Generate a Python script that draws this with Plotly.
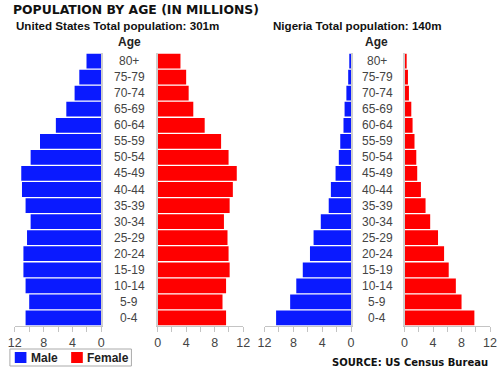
import plotly.graph_objects as go

ages = ["0-4", "5-9", "10-14", "15-19", "20-24", "25-29", "30-34", "35-39",
        "40-44", "45-49", "50-54", "55-59", "60-64", "65-69", "70-74", "75-79", "80+"]
us_male = [10.5, 10.0, 10.5, 10.8, 10.8, 10.3, 9.8, 10.5, 11.0, 11.1, 9.8, 8.5, 6.3, 4.85, 3.7, 3.05, 2.05]
us_female = [9.6, 9.1, 9.6, 10.1, 9.95, 9.8, 9.3, 10.1, 10.55, 11.1, 9.95, 8.9, 6.6, 5.0, 4.35, 4.0, 3.2]
ng_male = [10.4, 8.45, 7.6, 6.7, 5.7, 5.2, 4.2, 3.1, 2.8, 2.15, 1.7, 1.5, 1.05, 0.9, 0.65, 0.4, 0.25]
ng_female = [9.8, 8.0, 7.2, 6.2, 5.55, 4.7, 3.6, 2.95, 2.3, 1.78, 1.65, 1.4, 1.13, 0.95, 0.62, 0.48, 0.3]
tick_vals = [0, 2, 4, 6, 8, 10, 12]
tick_text = ["0", "", "4", "", "8", "", "12"]
title_text = "POPULATION BY AGE (IN MILLIONS)"
us_title = "United States Total population: 301m"
ng_title = "Nigeria Total population: 140m"
source_text = "SOURCE: US Census Bureau"

BLUE = "#0a1aff"
RED = "#ff0000"
W, H = 499, 368

def px(x):
    return x / W

def py(y):
    return 1 - y / H

idx = list(range(len(ages)))
fig = go.Figure()
series = [(us_male, BLUE, "x", "y"), (us_female, RED, "x2", "y2"),
          (ng_male, BLUE, "x3", "y3"), (ng_female, RED, "x4", "y4")]
for vals, col, xa, ya in series:
    fig.add_trace(go.Bar(x=vals, y=idx, orientation="h", marker=dict(color=col, line=dict(width=0)),
                         xaxis=xa, yaxis=ya, showlegend=False, hoverinfo="x"))

ydom = [py(326), py(53)]
xdoms = [[px(8), px(97)], [px(155), px(243)], [px(265), px(354)], [px(409), px(497)]]
reversed_axis = [True, False, True, False]
names = ["", "2", "3", "4"]
for n, dom, rev in zip(names, xdoms, reversed_axis):
    fig.layout["xaxis" + n] = dict(
        domain=dom, range=[12, 0] if rev else [0, 12], anchor="y" + n,
        tickvals=tick_vals, ticktext=tick_text, ticks="outside", ticklen=5,
        tickcolor="#c4c4c4", showline=True, linecolor="#c4c4c4", linewidth=1,
        showgrid=False, zeroline=False, fixedrange=True,
        tickfont=dict(family="Liberation Sans", size=12.5, color="#444"))
    fig.layout["yaxis" + n] = dict(
        domain=ydom, range=[-0.5, len(ages) - 0.5], anchor="x" + n,
        side="right" if rev else "left", showline=True, linecolor="#cfcfcf", linewidth=2,
        showticklabels=False, ticks="", showgrid=False, zeroline=False, fixedrange=True)

annotations = []
for i, a in enumerate(ages):
    for cx, ya in [(126, "y"), (381, "y3")]:
        annotations.append(dict(x=px(cx), xref="paper", y=i, yref=ya, text=a, showarrow=False,
                                xanchor="center", yanchor="middle",
                                font=dict(family="Liberation Sans", size=12, color="#444")))

annotations.append(dict(x=px(4), y=py(9), xref="paper", yref="paper", text="<b>" + title_text + "</b>",
                        showarrow=False, xanchor="left", yanchor="middle",
                        font=dict(family="DejaVu Sans", size=12.4, color="#111")))
for cx, t in [(114, us_title), (361, ng_title)]:
    annotations.append(dict(x=px(cx), y=py(25), xref="paper", yref="paper", text="<b>" + t + "</b>",
                            showarrow=False, xanchor="center", yanchor="middle",
                            font=dict(family="Liberation Sans", size=11.6, color="#111")))
for cx in [126, 380]:
    annotations.append(dict(x=px(cx), y=py(42), xref="paper", yref="paper", text="<b>Age</b>",
                            showarrow=False, xanchor="center", yanchor="middle",
                            font=dict(family="Liberation Sans", size=12, color="#222")))
annotations.append(dict(x=px(497), y=py(362), xref="paper", yref="paper", text="<b>" + source_text + "</b>",
                        showarrow=False, xanchor="right", yanchor="middle",
                        font=dict(family="DejaVu Sans", size=10, color="#111")))
# legend
annotations.append(dict(x=px(23), y=py(358), xref="paper", yref="paper", text="<b>Male</b>",
                        showarrow=False, xanchor="left", yanchor="middle",
                        font=dict(family="Liberation Sans", size=12, color="#222")))
annotations.append(dict(x=px(80), y=py(358), xref="paper", yref="paper", text="<b>Female</b>",
                        showarrow=False, xanchor="left", yanchor="middle",
                        font=dict(family="Liberation Sans", size=12, color="#222")))

shapes = [
    dict(type="rect", xref="paper", yref="paper", x0=px(3), x1=px(128), y0=py(366), y1=py(349),
         line=dict(color="#aaa", width=1), fillcolor="white"),
    dict(type="rect", xref="paper", yref="paper", x0=px(8), x1=px(20), y0=py(363), y1=py(352),
         line=dict(width=0), fillcolor=BLUE),
    dict(type="rect", xref="paper", yref="paper", x0=px(66), x1=px(78), y0=py(363), y1=py(352),
         line=dict(width=0), fillcolor=RED),
]

fig.update_layout(width=W, height=H, margin=dict(l=0, r=0, t=0, b=0),
                  paper_bgcolor="white", plot_bgcolor="white", bargap=0.08,
                  annotations=annotations, shapes=shapes, showlegend=False)
fig.write_html("out.html", config={"displayModeBar": False},
               post_script="document.body.style.margin='0';document.body.style.padding='0';document.body.style.overflow='hidden';")
